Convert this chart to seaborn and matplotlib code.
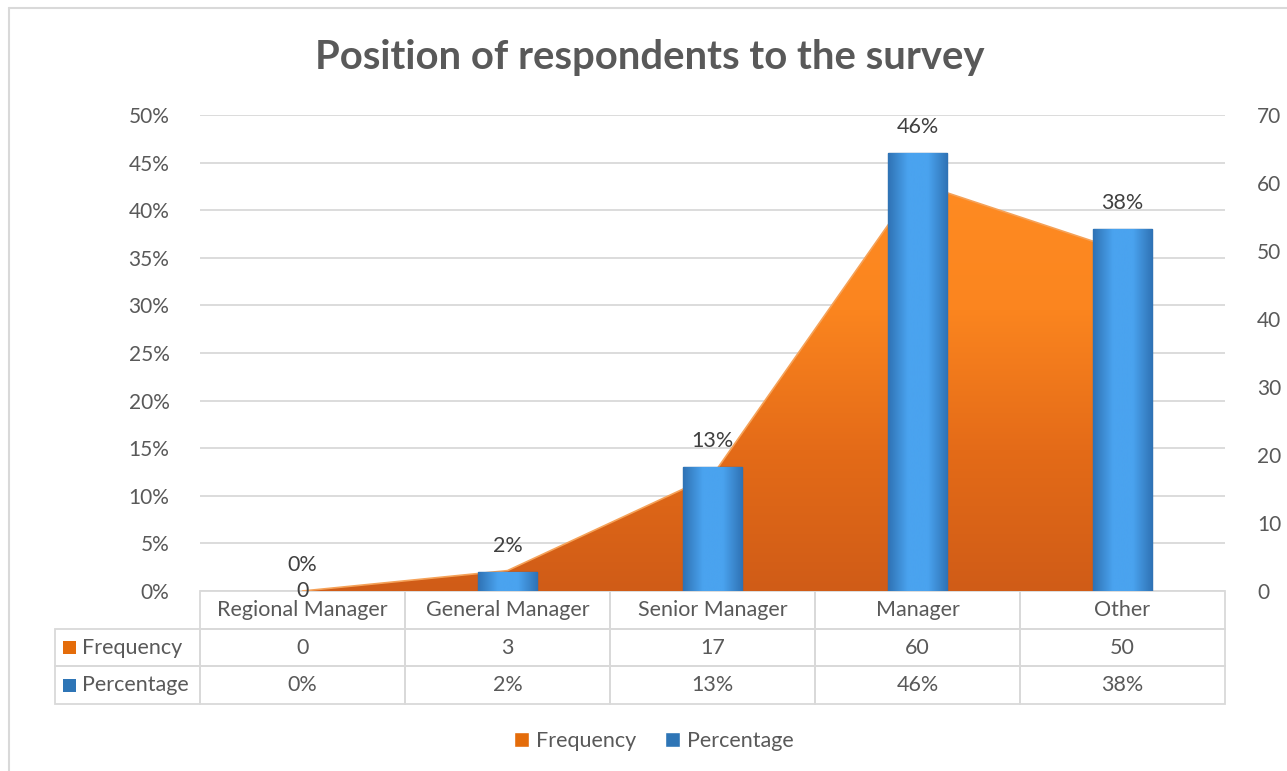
import numpy as np
import matplotlib
matplotlib.use('Agg')
import matplotlib.pyplot as plt
import seaborn as sns
from matplotlib.ticker import PercentFormatter, MultipleLocator
from matplotlib.colors import LinearSegmentedColormap
from matplotlib.patches import Patch, Rectangle
from matplotlib.lines import Line2D

# data
categories = ['Regional Manager', 'General Manager', 'Senior Manager', 'Manager', 'Other']
frequency = [0, 3, 17, 60, 50]
percentage = [0.00, 0.02, 0.13, 0.46, 0.38]
freq_labels = ['0', '3', '17', '60', '50']
pct_labels = ['0%', '2%', '13%', '46%', '38%']

sns.set_theme(style='white')
plt.rcParams['font.family'] = ['Lato', 'DejaVu Sans']

TXT = '#595959'
GRID = '#d9d9d9'
ORANGE = '#e46c0a'
BLUE = '#2e75b6'
FS = 15.5

W, H = 1287, 771
fig = plt.figure(figsize=(W / 100, H / 100), dpi=100)
fig.patch.set_facecolor('white')

# chart frame (cropped at right/bottom)
fig.add_artist(Line2D([9 / W, 9 / W], [0, 1 - 8 / H], color=GRID, lw=1.5))
fig.add_artist(Line2D([9 / W, 1], [1 - 8 / H, 1 - 8 / H], color=GRID, lw=1.5))

left, right, top, bottom = 200, 1225, 115, 591
ax = fig.add_axes([left / W, 1 - bottom / H, (right - left) / W, (bottom - top) / H])
ax_area = ax.twinx()
ax_bar = ax.twinx()
ax.set_zorder(0)
ax_area.set_zorder(1)
ax_bar.set_zorder(2)

# primary axis: percentage scale + gridlines
ax.set_xlim(-0.5, len(categories) - 0.5)
ax.set_ylim(0, 0.5)
ax.yaxis.set_major_locator(MultipleLocator(0.05))
ax.yaxis.set_major_formatter(PercentFormatter(1, decimals=0))
ax.grid(axis='y', color=GRID, lw=1.3)
ax.grid(axis='x', visible=False)
ax.tick_params(axis='y', length=0, pad=22, labelsize=15, labelcolor=TXT)
ax.set_xticks([])
for s in ax.spines.values():
    s.set_visible(False)

# secondary axis: frequency area
x = np.arange(len(categories))
ax_area.set_ylim(0, 70)
ax_area.yaxis.set_major_locator(MultipleLocator(10))
ax_area.tick_params(axis='y', length=0, pad=23, labelsize=15, labelcolor=TXT)
ax_area.grid(False)
poly = ax_area.fill_between(x, frequency, 0, color='#e8711a', lw=0)
ax_area.plot(x, frequency, color='#f5a259', lw=1.2)
grad = np.linspace(0, 1, 256).reshape(-1, 1)
cmap_o = LinearSegmentedColormap.from_list('o', ['#d05c17', '#e46b18', '#fb851f', '#ff8c22'])
im = ax_area.imshow(grad, extent=[-0.5, 4.5, 0, 62], origin='lower', aspect='auto',
                    cmap=cmap_o, zorder=1)
im.set_clip_path(poly.get_paths()[0], transform=ax_area.transData)
poly.set_visible(False)
for xi, v, lab in zip(x, frequency, freq_labels):
    ax_area.text(xi, v / 2, lab, ha='center', va='center', fontsize=FS, color='#404040', zorder=5)
for s in ax_area.spines.values():
    s.set_visible(False)

# bars: percentage
sns.barplot(x=categories, y=percentage, ax=ax_bar, width=0.29, color='#3f92dd',
            edgecolor='#2a69a6', linewidth=1.0, saturation=1)
ax_bar.set_yticks([])
ax_bar.set_xticks([])
ax_bar.set_xlabel('')
ax_bar.set_ylabel('')
for s in ax_bar.spines.values():
    s.set_visible(False)
cmap_b = LinearSegmentedColormap.from_list('b', ['#2f72b4', '#4aa3ef', '#4aa3ef', '#2f72b4'])
hgrad = np.linspace(0, 1, 256).reshape(1, -1)
for p in list(ax_bar.patches):
    bx, by, bw, bh = p.get_x(), p.get_y(), p.get_width(), p.get_height()
    if bh <= 0:
        p.set_visible(False)
        continue
    bi = ax_bar.imshow(hgrad, extent=[bx, bx + bw, by, by + bh], aspect='auto',
                       cmap=cmap_b, zorder=3)
    bi.set_clip_path(p)
ax_bar.set_xlim(-0.5, len(categories) - 0.5)
ax_bar.set_ylim(0, 0.5)
for xi, v, lab in zip(x, percentage, pct_labels):
    ax_bar.annotate(lab, (xi, v), xytext=(0, 26), textcoords='offset pixels',
                    ha='center', va='center', fontsize=FS, color='#404040', zorder=6)

# data table under the plot
tab_h = (704 - 591) / (bottom - top)
lab_w = 145 / (right - left)
col_w = 1 / len(categories)
rows = [['Frequency'] + freq_labels, ['Percentage'] + pct_labels]
tbl = ax.table(cellText=rows, colLabels=[''] + categories, cellLoc='center',
               colWidths=[lab_w] + [col_w] * len(categories),
               bbox=[-lab_w, -tab_h, 1 + lab_w, tab_h])
tbl.auto_set_font_size(False)
for (r, c), cell in tbl.get_celld().items():
    cell.set_edgecolor(GRID)
    cell.set_linewidth(1.3)
    cell.set_facecolor('none')
    cell.get_text().set_color(TXT)
    cell.get_text().set_fontsize(FS)
    if c == 0:
        if r == 0:
            cell.visible_edges = ''
        cell._loc = 'left'
        cell.get_text().set_ha('left')
        cell.PAD = 27 / 145

# colour keys in the table
for yc, col in [(647, ORANGE), (685, BLUE)]:
    fig.add_artist(Rectangle((63 / W, 1 - (yc + 6.5) / H), 13 / W, 13 / H,
                             transform=fig.transFigure, facecolor=col, edgecolor='none'))

# title
fig.text(0.505, 1 - 57 / H, 'Position of respondents to the survey', ha='center', va='center',
         fontsize=28.8, fontweight='bold', color=TXT)

# legend
handles = [Patch(facecolor=ORANGE, label='Frequency'), Patch(facecolor=BLUE, label='Percentage')]
fig.legend(handles=handles, loc='center', bbox_to_anchor=(0.508, 1 - 741 / H), ncol=2,
           frameon=False, fontsize=FS, labelcolor=TXT, handlelength=0.7, handleheight=0.7,
           handletextpad=0.35, columnspacing=1.3)

plt.savefig('out.png', dpi=100)
